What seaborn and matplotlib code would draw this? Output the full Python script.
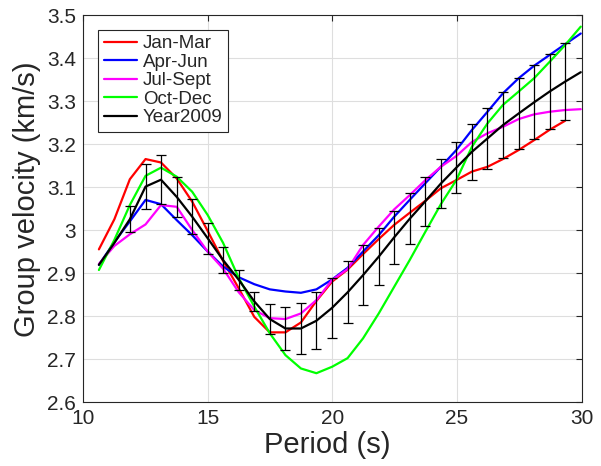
import numpy as np
import pandas as pd
import matplotlib
matplotlib.use("Agg")
import matplotlib.pyplot as plt
import seaborn as sns

# ---- data ----
periods = [10.64, 11.26, 11.88, 12.51, 13.13, 13.76, 14.38, 15.00, 15.62, 16.25,
           16.87, 17.49, 18.12, 18.74, 19.36, 19.99, 20.61, 21.23, 21.86, 22.48,
           23.10, 23.73, 24.35, 24.97, 25.60, 26.22, 26.84, 27.47, 28.09, 28.71,
           29.33, 29.96]

jan_mar = [2.955, 3.025, 3.118, 3.165, 3.157, 3.120, 3.066, 2.998, 2.928, 2.864,
           2.798, 2.762, 2.762, 2.785, 2.835, 2.880, 2.908, 2.944, 2.979, 3.012,
           3.040, 3.068, 3.097, 3.116, 3.136, 3.147, 3.165, 3.186, 3.209, 3.233,
           3.254]

apr_jun = [2.919, 2.972, 3.020, 3.070, 3.060, 3.023, 2.988, 2.950, 2.915, 2.890,
           2.874, 2.862, 2.857, 2.854, 2.862, 2.885, 2.912, 2.950, 2.988, 3.031,
           3.070, 3.109, 3.147, 3.186, 3.233, 3.275, 3.318, 3.353, 3.382, 3.407,
           3.432, 3.457]

jul_sept = [2.921, 2.963, 2.990, 3.013, 3.058, 3.054, 3.000, 2.950, 2.910, 2.855,
            2.814, 2.795, 2.793, 2.806, 2.837, 2.884, 2.909, 2.965, 3.008, 3.048,
            3.081, 3.116, 3.147, 3.172, 3.205, 3.225, 3.240, 3.258, 3.269, 3.275,
            3.279, 3.281]

oct_dec = [2.907, 2.977, 3.058, 3.126, 3.145, 3.124, 3.089, 3.035, 2.970, 2.888,
           2.822, 2.760, 2.709, 2.678, 2.667, 2.682, 2.702, 2.748, 2.806, 2.868,
           2.930, 2.996, 3.060, 3.116, 3.194, 3.248, 3.291, 3.322, 3.353, 3.391,
           3.430, 3.473]

year2009 = [2.919, 2.970, 3.025, 3.101, 3.117, 3.077, 3.031, 2.981, 2.930, 2.884,
            2.834, 2.793, 2.771, 2.771, 2.789, 2.819, 2.855, 2.895, 2.938, 2.983,
            3.026, 3.067, 3.108, 3.145, 3.182, 3.213, 3.244, 3.271, 3.297, 3.322,
            3.345, 3.367]

# half-length of error bars on the Year2009 curve (NaN = no bar)
year_err = [np.nan, np.nan, 0.030, 0.052, 0.057, 0.047, 0.041, 0.036, 0.030, 0.023,
            0.022, 0.034, 0.049, 0.059, 0.066, 0.069, 0.072, 0.070, 0.066, 0.062,
            0.059, 0.057, 0.057, 0.059, 0.065, 0.070, 0.077, 0.083, 0.086, 0.088,
            0.090, np.nan]

series_names = ["Jan-Mar", "Apr-Jun", "Jul-Sept", "Oct-Dec", "Year2009"]
series_vals = [jan_mar, apr_jun, jul_sept, oct_dec, year2009]
colors = ["#ff0000", "#0000ff", "#ff00ff", "#00ff00", "#000000"]

frames = []
for name, vals in zip(series_names, series_vals):
    frames.append(pd.DataFrame({"Period": periods[:len(vals)], "Velocity": vals,
                                "Series": name}))
df = pd.concat(frames, ignore_index=True)

# ---- style ----
sns.set_style("white")
plt.rcParams["font.family"] = ["Liberation Sans", "DejaVu Sans"]

fig = plt.figure(figsize=(6.01, 4.66), dpi=100)
ax = fig.add_axes([0.138, 0.1373, 0.830, 0.8305])

sns.lineplot(data=df, x="Period", y="Velocity", hue="Series",
             hue_order=series_names, palette=dict(zip(series_names, colors)),
             linewidth=1.6, sort=False, estimator=None, ax=ax, zorder=3)

err = np.array(year_err)
mask = ~np.isnan(err)
ax.errorbar(np.array(periods)[mask], np.array(year2009)[mask], yerr=err[mask],
            fmt="none", ecolor="black", elinewidth=0.9, capsize=3.4,
            capthick=0.9, zorder=4)

ax.set_xlim(10, 30)
ax.set_ylim(2.6, 3.5)
ax.set_xticks([10, 15, 20, 25, 30])
yt = [2.6, 2.7, 2.8, 2.9, 3.0, 3.1, 3.2, 3.3, 3.4, 3.5]
ax.set_yticks(yt)
ax.set_yticklabels(["2.6", "2.7", "2.8", "2.9", "3", "3.1", "3.2", "3.3", "3.4", "3.5"])

ax.grid(True, color="#dedede", linewidth=0.8, zorder=0)
ax.set_axisbelow(True)
for s in ax.spines.values():
    s.set_color("#262626")
    s.set_linewidth(0.8)
    s.set_visible(True)
ax.tick_params(direction="in", top=True, right=True, length=4, width=0.8,
               colors="#262626", labelsize=15, pad=5)

ax.set_xlabel("Period (s)", fontsize=21, color="#262626")
ax.set_ylabel("Group velocity (km/s)", fontsize=21, color="#262626")
ax.xaxis.set_label_coords(0.489, -0.075)
ax.yaxis.set_label_coords(-0.085, 0.525)

leg = ax.legend(loc="upper left", bbox_to_anchor=(0.03, 0.962), fontsize=13.5,
                frameon=True, fancybox=False, framealpha=1, edgecolor="#262626",
                handlelength=1.8, handletextpad=0.3, labelspacing=0.07,
                borderpad=0.3, borderaxespad=0)
leg.get_frame().set_linewidth(0.8)
for line in leg.get_lines():
    line.set_linewidth(1.6)

fig.savefig("out.png", dpi=100)
